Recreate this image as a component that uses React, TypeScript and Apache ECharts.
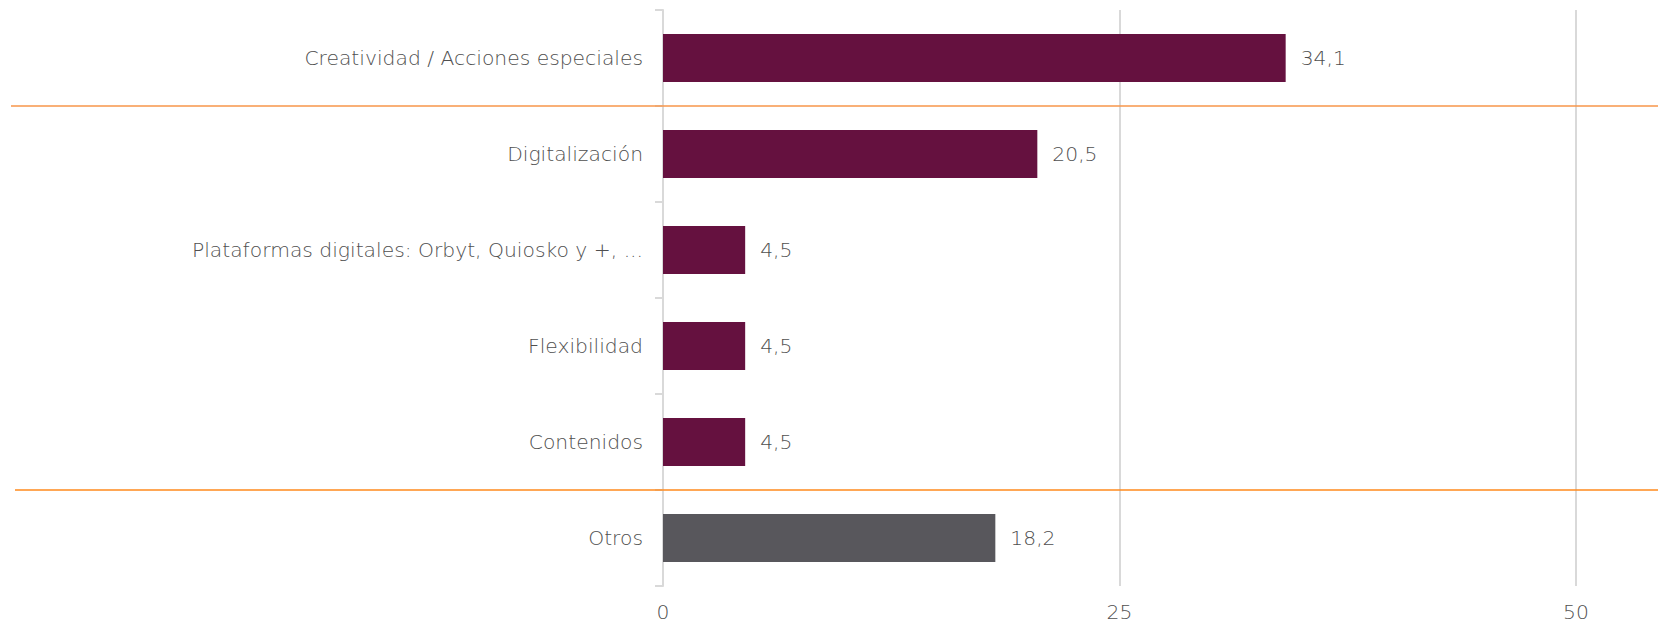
import React, { useEffect, useRef } from "react";
import * as echarts from "echarts";

const categories = [
  "Creatividad / Acciones especiales",
  "Digitalización",
  "Plataformas digitales: Orbyt, Quiosko y +, ...",
  "Flexibilidad",
  "Contenidos",
  "Otros",
];
const values = [34.1, 20.5, 4.5, 4.5, 4.5, 18.2];
const barColors = ["#65113F", "#65113F", "#65113F", "#65113F", "#65113F", "#58575C"];
const xTicks = [0, 25, 50];
// separator lines drawn after these category indices (boundary below them)
const separatorsAfter = [0, 4];
const separatorColors = ["#F7964A", "#FF8A1C"];

const FONT = "'DejaVu Sans', 'Open Sans', sans-serif";
const TEXT = "#4f4f4f";

export default function App() {
  const ref = useRef<HTMLDivElement>(null);
  useEffect(() => {
    if (!ref.current) return;
    const chart = echarts.init(ref.current, undefined, { renderer: "svg" });
    const textStyle = { color: TEXT, fontSize: 20.3, fontFamily: FONT, fontWeight: 200 };
    chart.setOption({
      animation: false,
      grid: { left: 663, right: 82, top: 10, bottom: 40, containLabel: false },
      xAxis: {
        type: "value",
        min: xTicks[0],
        max: xTicks[xTicks.length - 1],
        interval: 25,
        axisLine: { show: false },
        axisTick: { show: false },
        splitLine: { show: true, lineStyle: { color: "#d9d9d9", width: 2 } },
        axisLabel: { ...textStyle, margin: 16 },
      },
      yAxis: {
        type: "category",
        inverse: true,
        data: categories,
        axisLine: { show: true, lineStyle: { color: "#d9d9d9", width: 2 } },
        axisTick: { show: true, length: 8, lineStyle: { color: "#d9d9d9", width: 2 } },
        axisLabel: { ...textStyle, margin: 20 },
      },
      series: [
        {
          type: "bar",
          barWidth: "50%",
          data: values.map((v, i) => ({ value: v, itemStyle: { color: barColors[i] } })),
          label: {
            show: true,
            position: "right",
            distance: 15,
            ...textStyle,
            formatter: (p: any) => String(p.value).replace(".", ","),
          },
        },
      ],
    });
    const c0 = chart.convertToPixel({ yAxisIndex: 0 }, 0) as number;
    const c1 = chart.convertToPixel({ yAxisIndex: 0 }, 1) as number;
    const step = c1 - c0;
    const width = ref.current.clientWidth;
    chart.setOption({
      graphic: separatorsAfter.map((idx, i) => {
        const y = (chart.convertToPixel({ yAxisIndex: 0 }, idx) as number) + step / 2;
        return {
          type: "line",
          shape: { x1: i === 0 ? 11 : 15, y1: y, x2: width, y2: y },
          style: { stroke: separatorColors[i], lineWidth: 1.5 },
          z: 100,
        };
      }),
    });
    return () => chart.dispose();
  }, []);
  return (
    <div
      ref={ref}
      style={{ position: "absolute", left: 0, top: 0, width: 1658, height: 626 }}
    />
  );
}
